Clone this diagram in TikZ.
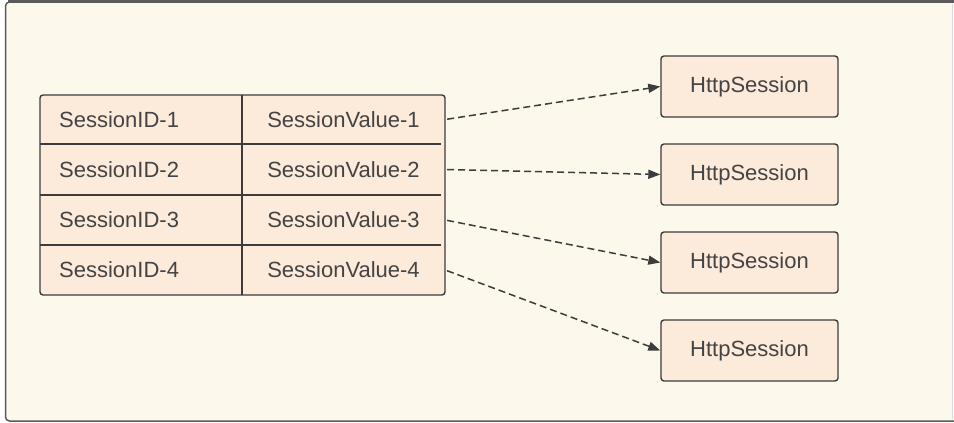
\documentclass[tikz,border=0pt]{standalone}
\usepackage{fontspec}
\setmainfont{Liberation Sans}
\usetikzlibrary{arrows.meta}
\definecolor{bgcream}{HTML}{FCF9EC}
\definecolor{cellfill}{HTML}{FCEADB}
\definecolor{linegray}{HTML}{3C3C3C}
\definecolor{textgray}{HTML}{444444}
\definecolor{framegray}{HTML}{5A5A5A}
\tikzset{
  celltext/.style={inner sep=0pt, text=textgray, font=\fontsize{22}{24}\selectfont},
  valcell/.style={celltext, minimum width=203pt, minimum height=50pt},
  sessbox/.style={draw=linegray, line width=1.4pt, fill=cellfill, rounded corners=3pt,
    minimum width=177pt, minimum height=61pt, text=textgray, inner sep=0pt,
    font=\fontsize{22}{24}\selectfont},
  tablebox/.style={draw=linegray, line width=1.4pt, fill=cellfill, rounded corners=3pt,
    minimum width=405pt, minimum height=200pt, inner sep=0pt},
  divider/.style={draw=linegray, line width=1.4pt},
  link/.style={draw=linegray, line width=1.5pt, dash pattern=on 7pt off 4pt,
    -{Triangle[length=12pt,width=9pt]}, shorten <=2pt}
}
\begin{document}
\begin{tikzpicture}[x=1pt,y=-1pt]
\useasboundingbox (0,0) rectangle (954,423);
\fill[white] (0,0) rectangle (954,423);
% frame
\fill[bgcream] (5.5,2) rectangle (953,421);
\draw[draw=framegray, line width=1.5pt, rounded corners=4pt] (954,421) -- (5.5,421) -- (5.5,2) -- (954,2);
\draw[framegray, line width=3pt] (8,1.5) -- (954,1.5);
\draw[black!15, line width=1pt] (952.5,4) -- (952.5,419);
% table
\node[tablebox] (tbl) at (242.5,195) {};
\draw[divider] (242,95) -- (242,295);
\draw[divider] (40,144) -- (441,144);
\draw[divider] (40,195) -- (441,195);
\draw[divider] (40,245) -- (441,245);
% id cells
\node[celltext, anchor=west] (id1) at (59,120) {SessionID-1};
\node[celltext, anchor=west] (id2) at (59,169.5) {SessionID-2};
\node[celltext, anchor=west] (id3) at (59,220) {SessionID-3};
\node[celltext, anchor=west] (id4) at (59,270) {SessionID-4};
% value cells
\node[valcell] (v1) at (343.5,119.5) {SessionValue-1};
\node[valcell] (v2) at (343.5,169.5) {SessionValue-2};
\node[valcell] (v3) at (343.5,220) {SessionValue-3};
\node[valcell] (v4) at (343.5,270) {SessionValue-4};
% session boxes
\node[sessbox] (h1) at (749.5,86.5) {HttpSession};
\node[sessbox] (h2) at (749.5,174.5) {HttpSession};
\node[sessbox] (h3) at (749.5,262.5) {HttpSession};
\node[sessbox] (h4) at (749.5,350.5) {HttpSession};
% links
\draw[link] (v1.east) -- (h1.west);
\draw[link] (v2.east) -- (h2.west);
\draw[link] (v3.east) -- (h3.west);
\draw[link] (v4.east) -- (h4.west);
\end{tikzpicture}
\end{document}
